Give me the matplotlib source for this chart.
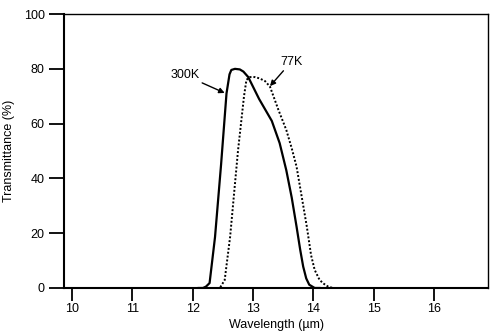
import matplotlib
matplotlib.use("Agg")
import matplotlib.pyplot as plt

plt.rcParams['font.family'] = ['Liberation Sans', 'DejaVu Sans']

# 300K curve (solid)
wl_300 = [12.10, 12.17, 12.22, 12.28, 12.37, 12.47, 12.56, 12.61, 12.64, 12.70,
          12.78, 12.84, 12.92, 13.10, 13.31, 13.44, 13.55, 13.64, 13.72,
          13.78, 13.83, 13.88, 13.93, 14.02, 14.10]
tr_300 = [0.0, 0.0, 0.5, 1.8, 18.6, 45.0, 71.0, 78.0, 79.6, 80.0,
          79.8, 79.0, 77.0, 69.0, 61.0, 52.9, 43.0, 33.0, 22.4,
          14.0, 7.8, 3.5, 1.2, 0.0, 0.0]

# 77K curve (dotted)
wl_77 = [12.40, 12.45, 12.53, 12.62, 12.75, 12.85, 12.89, 12.95, 13.03, 13.11,
         13.20, 13.28, 13.42, 13.55, 13.64, 13.72, 13.80, 13.89, 13.96,
         14.02, 14.10, 14.16, 14.25, 14.33]
tr_77 = [0.0, 0.0, 2.9, 18.7, 50.0, 70.0, 76.0, 77.0, 77.0, 76.5,
         75.5, 73.5, 65.0, 57.7, 51.0, 44.3, 34.0, 22.4, 12.0,
         6.6, 3.0, 1.7, 0.4, 0.0]

x_ticks = [10, 11, 12, 13, 14, 15, 16]
y_ticks = [0, 20, 40, 60, 80, 100]

fig = plt.figure(figsize=(4.94, 3.35), dpi=100)
ax = fig.add_axes([0.1296, 0.1403, 0.8583, 0.8177])

ax.plot(wl_300, tr_300, color='black', linewidth=1.6, solid_joinstyle='round')
ax.plot(wl_77, tr_77, color='black', linewidth=1.4, linestyle=(0, (1, 1)))

# arrows start just beside the labels
arrow = dict(arrowstyle='-|>', color='black', lw=1.0,
             shrinkA=0, shrinkB=0, mutation_scale=8)
ax.annotate('300K', xy=(12.53, 71.2), xytext=(11.87, 77.7),
            ha='center', va='center', fontsize=9, arrowprops=arrow)
ax.annotate('77K', xy=(13.28, 73.7), xytext=(13.63, 82.5),
            ha='center', va='center', fontsize=9, arrowprops=arrow)

ax.set_xlim(9.87, 16.89)
ax.set_ylim(0, 100)
ax.set_xticks(x_ticks)
ax.set_yticks(y_ticks)
ax.tick_params(axis='x', direction='out', length=9, width=1.3, labelsize=9, pad=2)
ax.tick_params(axis='y', direction='out', length=11, width=1.3, labelsize=9, pad=3)

for side in ['left', 'bottom']:
    ax.spines[side].set_linewidth(1.5)
for side in ['top', 'right']:
    ax.spines[side].set_linewidth(1.0)

ax.set_xlabel('Wavelength (µm)', fontsize=9, labelpad=3)
ax.set_ylabel('Transmittance (%)', fontsize=9, labelpad=6)

fig.savefig('out.png', dpi=100)
